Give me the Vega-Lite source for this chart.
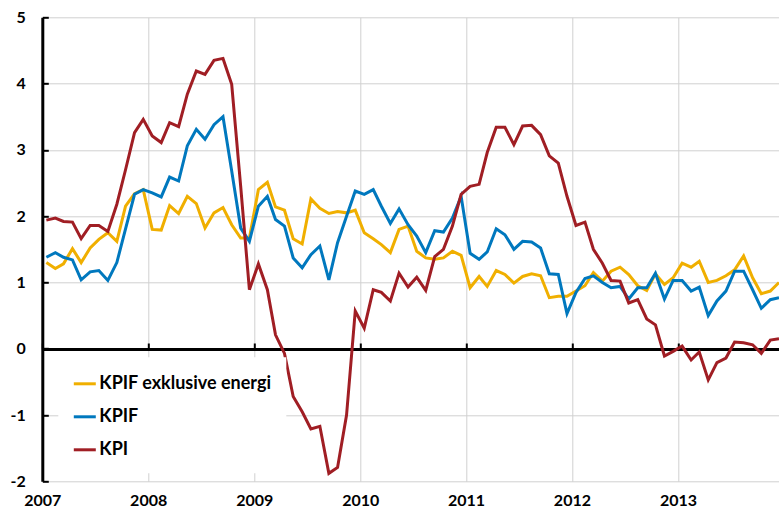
{
"$schema": "https://vega.github.io/schema/vega-lite/v6.json",
"width": 737, "height": 464,
"autosize": {"type": "none"},
"padding": {"left": 42.3, "top": 17.3, "right": 0, "bottom": 26.7},
"background": "white",
"config": {"font": "Lato", "view": {"stroke": null}},
"datasets": {"d": [
{"t":"2007-01-15","s":"KPIF exklusive energi","v":1.30},{"t":"2007-02-15","s":"KPIF exklusive energi","v":1.21},{"t":"2007-03-15","s":"KPIF exklusive energi","v":1.28},{"t":"2007-04-15","s":"KPIF exklusive energi","v":1.51},{"t":"2007-05-15","s":"KPIF exklusive energi","v":1.30},{"t":"2007-06-15","s":"KPIF exklusive energi","v":1.52},{"t":"2007-07-15","s":"KPIF exklusive energi","v":1.65},{"t":"2007-08-15","s":"KPIF exklusive energi","v":1.75},{"t":"2007-09-15","s":"KPIF exklusive energi","v":1.62},{"t":"2007-10-15","s":"KPIF exklusive energi","v":2.15},{"t":"2007-11-15","s":"KPIF exklusive energi","v":2.34},{"t":"2007-12-15","s":"KPIF exklusive energi","v":2.40},
{"t":"2008-01-15","s":"KPIF exklusive energi","v":1.80},{"t":"2008-02-15","s":"KPIF exklusive energi","v":1.79},{"t":"2008-03-15","s":"KPIF exklusive energi","v":2.16},{"t":"2008-04-15","s":"KPIF exklusive energi","v":2.04},{"t":"2008-05-15","s":"KPIF exklusive energi","v":2.30},{"t":"2008-06-15","s":"KPIF exklusive energi","v":2.19},{"t":"2008-07-15","s":"KPIF exklusive energi","v":1.82},{"t":"2008-08-15","s":"KPIF exklusive energi","v":2.05},{"t":"2008-09-15","s":"KPIF exklusive energi","v":2.13},{"t":"2008-10-15","s":"KPIF exklusive energi","v":1.87},{"t":"2008-11-15","s":"KPIF exklusive energi","v":1.67},{"t":"2008-12-15","s":"KPIF exklusive energi","v":1.67},
{"t":"2009-01-15","s":"KPIF exklusive energi","v":2.40},{"t":"2009-02-15","s":"KPIF exklusive energi","v":2.51},{"t":"2009-03-15","s":"KPIF exklusive energi","v":2.14},{"t":"2009-04-15","s":"KPIF exklusive energi","v":2.09},{"t":"2009-05-15","s":"KPIF exklusive energi","v":1.66},{"t":"2009-06-15","s":"KPIF exklusive energi","v":1.58},{"t":"2009-07-15","s":"KPIF exklusive energi","v":2.26},{"t":"2009-08-15","s":"KPIF exklusive energi","v":2.12},{"t":"2009-09-15","s":"KPIF exklusive energi","v":2.04},{"t":"2009-10-15","s":"KPIF exklusive energi","v":2.07},{"t":"2009-11-15","s":"KPIF exklusive energi","v":2.05},{"t":"2009-12-15","s":"KPIF exklusive energi","v":2.09},
{"t":"2010-01-15","s":"KPIF exklusive energi","v":1.75},{"t":"2010-02-15","s":"KPIF exklusive energi","v":1.66},{"t":"2010-03-15","s":"KPIF exklusive energi","v":1.57},{"t":"2010-04-15","s":"KPIF exklusive energi","v":1.45},{"t":"2010-05-15","s":"KPIF exklusive energi","v":1.80},{"t":"2010-06-15","s":"KPIF exklusive energi","v":1.85},{"t":"2010-07-15","s":"KPIF exklusive energi","v":1.47},{"t":"2010-08-15","s":"KPIF exklusive energi","v":1.37},{"t":"2010-09-15","s":"KPIF exklusive energi","v":1.35},{"t":"2010-10-15","s":"KPIF exklusive energi","v":1.37},{"t":"2010-11-15","s":"KPIF exklusive energi","v":1.47},{"t":"2010-12-15","s":"KPIF exklusive energi","v":1.41},
{"t":"2011-01-15","s":"KPIF exklusive energi","v":0.92},{"t":"2011-02-15","s":"KPIF exklusive energi","v":1.09},{"t":"2011-03-15","s":"KPIF exklusive energi","v":0.94},{"t":"2011-04-15","s":"KPIF exklusive energi","v":1.18},{"t":"2011-05-15","s":"KPIF exklusive energi","v":1.12},{"t":"2011-06-15","s":"KPIF exklusive energi","v":0.99},{"t":"2011-07-15","s":"KPIF exklusive energi","v":1.09},{"t":"2011-08-15","s":"KPIF exklusive energi","v":1.13},{"t":"2011-09-15","s":"KPIF exklusive energi","v":1.10},{"t":"2011-10-15","s":"KPIF exklusive energi","v":0.77},{"t":"2011-11-15","s":"KPIF exklusive energi","v":0.79},{"t":"2011-12-15","s":"KPIF exklusive energi","v":0.79},
{"t":"2012-01-15","s":"KPIF exklusive energi","v":0.87},{"t":"2012-02-15","s":"KPIF exklusive energi","v":0.95},{"t":"2012-03-15","s":"KPIF exklusive energi","v":1.15},{"t":"2012-04-15","s":"KPIF exklusive energi","v":1.02},{"t":"2012-05-15","s":"KPIF exklusive energi","v":1.17},{"t":"2012-06-15","s":"KPIF exklusive energi","v":1.23},{"t":"2012-07-15","s":"KPIF exklusive energi","v":1.12},{"t":"2012-08-15","s":"KPIF exklusive energi","v":0.95},{"t":"2012-09-15","s":"KPIF exklusive energi","v":0.88},{"t":"2012-10-15","s":"KPIF exklusive energi","v":1.13},{"t":"2012-11-15","s":"KPIF exklusive energi","v":0.97},{"t":"2012-12-15","s":"KPIF exklusive energi","v":1.07},
{"t":"2013-01-15","s":"KPIF exklusive energi","v":1.29},{"t":"2013-02-15","s":"KPIF exklusive energi","v":1.23},{"t":"2013-03-15","s":"KPIF exklusive energi","v":1.32},{"t":"2013-04-15","s":"KPIF exklusive energi","v":1.00},{"t":"2013-05-15","s":"KPIF exklusive energi","v":1.03},{"t":"2013-06-15","s":"KPIF exklusive energi","v":1.10},{"t":"2013-07-15","s":"KPIF exklusive energi","v":1.19},{"t":"2013-08-15","s":"KPIF exklusive energi","v":1.40},{"t":"2013-09-15","s":"KPIF exklusive energi","v":1.07},{"t":"2013-10-15","s":"KPIF exklusive energi","v":0.83},{"t":"2013-11-15","s":"KPIF exklusive energi","v":0.87},{"t":"2013-12-15","s":"KPIF exklusive energi","v":1.00},
{"t":"2007-01-15","s":"KPIF","v":1.38},{"t":"2007-02-15","s":"KPIF","v":1.45},{"t":"2007-03-15","s":"KPIF","v":1.38},{"t":"2007-04-15","s":"KPIF","v":1.34},{"t":"2007-05-15","s":"KPIF","v":1.04},{"t":"2007-06-15","s":"KPIF","v":1.16},{"t":"2007-07-15","s":"KPIF","v":1.18},{"t":"2007-08-15","s":"KPIF","v":1.03},{"t":"2007-09-15","s":"KPIF","v":1.30},{"t":"2007-10-15","s":"KPIF","v":1.81},{"t":"2007-11-15","s":"KPIF","v":2.33},{"t":"2007-12-15","s":"KPIF","v":2.40},
{"t":"2008-01-15","s":"KPIF","v":2.35},{"t":"2008-02-15","s":"KPIF","v":2.29},{"t":"2008-03-15","s":"KPIF","v":2.59},{"t":"2008-04-15","s":"KPIF","v":2.53},{"t":"2008-05-15","s":"KPIF","v":3.06},{"t":"2008-06-15","s":"KPIF","v":3.31},{"t":"2008-07-15","s":"KPIF","v":3.16},{"t":"2008-08-15","s":"KPIF","v":3.38},{"t":"2008-09-15","s":"KPIF","v":3.50},{"t":"2008-10-15","s":"KPIF","v":2.68},{"t":"2008-11-15","s":"KPIF","v":1.82},{"t":"2008-12-15","s":"KPIF","v":1.62},
{"t":"2009-01-15","s":"KPIF","v":2.15},{"t":"2009-02-15","s":"KPIF","v":2.30},{"t":"2009-03-15","s":"KPIF","v":1.95},{"t":"2009-04-15","s":"KPIF","v":1.85},{"t":"2009-05-15","s":"KPIF","v":1.37},{"t":"2009-06-15","s":"KPIF","v":1.22},{"t":"2009-07-15","s":"KPIF","v":1.42},{"t":"2009-08-15","s":"KPIF","v":1.55},{"t":"2009-09-15","s":"KPIF","v":1.04},{"t":"2009-10-15","s":"KPIF","v":1.60},{"t":"2009-11-15","s":"KPIF","v":2.00},{"t":"2009-12-15","s":"KPIF","v":2.38},
{"t":"2010-01-15","s":"KPIF","v":2.33},{"t":"2010-02-15","s":"KPIF","v":2.40},{"t":"2010-03-15","s":"KPIF","v":2.15},{"t":"2010-04-15","s":"KPIF","v":1.89},{"t":"2010-05-15","s":"KPIF","v":2.11},{"t":"2010-06-15","s":"KPIF","v":1.87},{"t":"2010-07-15","s":"KPIF","v":1.70},{"t":"2010-08-15","s":"KPIF","v":1.45},{"t":"2010-09-15","s":"KPIF","v":1.78},{"t":"2010-10-15","s":"KPIF","v":1.76},{"t":"2010-11-15","s":"KPIF","v":1.97},{"t":"2010-12-15","s":"KPIF","v":2.30},
{"t":"2011-01-15","s":"KPIF","v":1.44},{"t":"2011-02-15","s":"KPIF","v":1.35},{"t":"2011-03-15","s":"KPIF","v":1.46},{"t":"2011-04-15","s":"KPIF","v":1.81},{"t":"2011-05-15","s":"KPIF","v":1.72},{"t":"2011-06-15","s":"KPIF","v":1.50},{"t":"2011-07-15","s":"KPIF","v":1.62},{"t":"2011-08-15","s":"KPIF","v":1.61},{"t":"2011-09-15","s":"KPIF","v":1.52},{"t":"2011-10-15","s":"KPIF","v":1.13},{"t":"2011-11-15","s":"KPIF","v":1.12},{"t":"2011-12-15","s":"KPIF","v":0.53},
{"t":"2012-01-15","s":"KPIF","v":0.85},{"t":"2012-02-15","s":"KPIF","v":1.06},{"t":"2012-03-15","s":"KPIF","v":1.10},{"t":"2012-04-15","s":"KPIF","v":1.00},{"t":"2012-05-15","s":"KPIF","v":0.92},{"t":"2012-06-15","s":"KPIF","v":0.94},{"t":"2012-07-15","s":"KPIF","v":0.75},{"t":"2012-08-15","s":"KPIF","v":0.92},{"t":"2012-09-15","s":"KPIF","v":0.92},{"t":"2012-10-15","s":"KPIF","v":1.14},{"t":"2012-11-15","s":"KPIF","v":0.75},{"t":"2012-12-15","s":"KPIF","v":1.03},
{"t":"2013-01-15","s":"KPIF","v":1.03},{"t":"2013-02-15","s":"KPIF","v":0.87},{"t":"2013-03-15","s":"KPIF","v":0.93},{"t":"2013-04-15","s":"KPIF","v":0.50},{"t":"2013-05-15","s":"KPIF","v":0.72},{"t":"2013-06-15","s":"KPIF","v":0.87},{"t":"2013-07-15","s":"KPIF","v":1.17},{"t":"2013-08-15","s":"KPIF","v":1.17},{"t":"2013-09-15","s":"KPIF","v":0.89},{"t":"2013-10-15","s":"KPIF","v":0.61},{"t":"2013-11-15","s":"KPIF","v":0.74},{"t":"2013-12-15","s":"KPIF","v":0.77},
{"t":"2007-01-15","s":"KPI","v":1.94},{"t":"2007-02-15","s":"KPI","v":1.97},{"t":"2007-03-15","s":"KPI","v":1.92},{"t":"2007-04-15","s":"KPI","v":1.91},{"t":"2007-05-15","s":"KPI","v":1.66},{"t":"2007-06-15","s":"KPI","v":1.86},{"t":"2007-07-15","s":"KPI","v":1.86},{"t":"2007-08-15","s":"KPI","v":1.77},{"t":"2007-09-15","s":"KPI","v":2.18},{"t":"2007-10-15","s":"KPI","v":2.70},{"t":"2007-11-15","s":"KPI","v":3.26},{"t":"2007-12-15","s":"KPI","v":3.46},
{"t":"2008-01-15","s":"KPI","v":3.21},{"t":"2008-02-15","s":"KPI","v":3.11},{"t":"2008-03-15","s":"KPI","v":3.41},{"t":"2008-04-15","s":"KPI","v":3.35},{"t":"2008-05-15","s":"KPI","v":3.84},{"t":"2008-06-15","s":"KPI","v":4.19},{"t":"2008-07-15","s":"KPI","v":4.14},{"t":"2008-08-15","s":"KPI","v":4.35},{"t":"2008-09-15","s":"KPI","v":4.38},{"t":"2008-10-15","s":"KPI","v":3.99},{"t":"2008-11-15","s":"KPI","v":2.45},{"t":"2008-12-15","s":"KPI","v":0.89},
{"t":"2009-01-15","s":"KPI","v":1.28},{"t":"2009-02-15","s":"KPI","v":0.89},{"t":"2009-03-15","s":"KPI","v":0.21},{"t":"2009-04-15","s":"KPI","v":-0.07},{"t":"2009-05-15","s":"KPI","v":-0.72},{"t":"2009-06-15","s":"KPI","v":-0.95},{"t":"2009-07-15","s":"KPI","v":-1.21},{"t":"2009-08-15","s":"KPI","v":-1.17},{"t":"2009-09-15","s":"KPI","v":-1.88},{"t":"2009-10-15","s":"KPI","v":-1.79},{"t":"2009-11-15","s":"KPI","v":-1.00},{"t":"2009-12-15","s":"KPI","v":0.57},
{"t":"2010-01-15","s":"KPI","v":0.31},{"t":"2010-02-15","s":"KPI","v":0.89},{"t":"2010-03-15","s":"KPI","v":0.85},{"t":"2010-04-15","s":"KPI","v":0.72},{"t":"2010-05-15","s":"KPI","v":1.14},{"t":"2010-06-15","s":"KPI","v":0.93},{"t":"2010-07-15","s":"KPI","v":1.08},{"t":"2010-08-15","s":"KPI","v":0.88},{"t":"2010-09-15","s":"KPI","v":1.39},{"t":"2010-10-15","s":"KPI","v":1.50},{"t":"2010-11-15","s":"KPI","v":1.85},{"t":"2010-12-15","s":"KPI","v":2.33},
{"t":"2011-01-15","s":"KPI","v":2.45},{"t":"2011-02-15","s":"KPI","v":2.48},{"t":"2011-03-15","s":"KPI","v":2.96},{"t":"2011-04-15","s":"KPI","v":3.34},{"t":"2011-05-15","s":"KPI","v":3.34},{"t":"2011-06-15","s":"KPI","v":3.08},{"t":"2011-07-15","s":"KPI","v":3.36},{"t":"2011-08-15","s":"KPI","v":3.37},{"t":"2011-09-15","s":"KPI","v":3.23},{"t":"2011-10-15","s":"KPI","v":2.91},{"t":"2011-11-15","s":"KPI","v":2.80},{"t":"2011-12-15","s":"KPI","v":2.30},
{"t":"2012-01-15","s":"KPI","v":1.86},{"t":"2012-02-15","s":"KPI","v":1.91},{"t":"2012-03-15","s":"KPI","v":1.50},{"t":"2012-04-15","s":"KPI","v":1.29},{"t":"2012-05-15","s":"KPI","v":1.03},{"t":"2012-06-15","s":"KPI","v":1.02},{"t":"2012-07-15","s":"KPI","v":0.69},{"t":"2012-08-15","s":"KPI","v":0.74},{"t":"2012-09-15","s":"KPI","v":0.45},{"t":"2012-10-15","s":"KPI","v":0.36},{"t":"2012-11-15","s":"KPI","v":-0.11},{"t":"2012-12-15","s":"KPI","v":-0.04},
{"t":"2013-01-15","s":"KPI","v":0.04},{"t":"2013-02-15","s":"KPI","v":-0.17},{"t":"2013-03-15","s":"KPI","v":-0.05},{"t":"2013-04-15","s":"KPI","v":-0.47},{"t":"2013-05-15","s":"KPI","v":-0.21},{"t":"2013-06-15","s":"KPI","v":-0.14},{"t":"2013-07-15","s":"KPI","v":0.10},{"t":"2013-08-15","s":"KPI","v":0.09},{"t":"2013-09-15","s":"KPI","v":0.06},{"t":"2013-10-15","s":"KPI","v":-0.07},{"t":"2013-11-15","s":"KPI","v":0.13},{"t":"2013-12-15","s":"KPI","v":0.15}
]},
"data": {"name": "d"},
"layer": [
{
"mark": {"type": "line", "strokeWidth": 3, "clip": true},
"encoding": {
"x": {"field": "t", "type": "temporal",
"scale": {"type": "utc", "domain": [{"year": 2007, "month": 1, "date": 1, "utc": true}, {"year": 2013, "month": 12, "date": 16, "utc": true}]},
"axis": {"orient": "bottom", "title": null, "format": "%Y", "formatType": "utc",
"values": [{"year": 2007, "month": 1, "date": 1, "utc": true}, {"year": 2008, "month": 1, "date": 1, "utc": true}, {"year": 2009, "month": 1, "date": 1, "utc": true}, {"year": 2010, "month": 1, "date": 1, "utc": true}, {"year": 2011, "month": 1, "date": 1, "utc": true}, {"year": 2012, "month": 1, "date": 1, "utc": true}, {"year": 2013, "month": 1, "date": 1, "utc": true}],
"labelFont": "Lato", "labelFontWeight": "bold", "labelFontSize": 16, "labelColor": "black", "labelPadding": 24.5, "labelBaseline": "alphabetic", "labelFlush": false,
"ticks": false, "domain": false, "grid": true, "gridColor": "#d0d0d0", "gridWidth": 1}},
"y": {"field": "v", "type": "quantitative",
"scale": {"domain": [-2, 5], "nice": false, "zero": false},
"axis": {"title": null, "values": [-2, -1, 0, 1, 2, 3, 4, 5], "grid": true, "gridColor": "#d0d0d0", "gridWidth": 1,
"labelExpr": "datum.value < 0 ? '-' + abs(datum.value) : '' + datum.value",
"domain": true, "domainColor": "black", "domainWidth": 3, "ticks": true, "tickColor": "black", "tickWidth": 2, "tickSize": -6,
"labelPadding": 23, "labelFont": "Lato", "labelFontWeight": "bold", "labelFontSize": 16, "labelColor": "black"}},
"color": {"field": "s", "type": "nominal",
"scale": {"domain": ["KPIF exklusive energi", "KPIF", "KPI"], "range": ["#F0AF00", "#0078BE", "#A01E24"]},
"legend": {"orient": "none", "legendX": 16, "legendY": 340, "title": null, "fillColor": "white", "padding": 14,
"symbolType": "stroke", "symbolSize": 484, "symbolStrokeWidth": 3, "labelOffset": 2, "rowPadding": 11, "labelLimit": 0,
"labelFont": "Lato", "labelFontWeight": "bold", "labelFontSize": 18, "labelColor": "black"}}
}
},
{
"mark": {"type": "point", "opacity": 0},
"encoding": {
"x": {"field": "t", "type": "temporal",
"scale": {"type": "utc", "domain": [{"year": 2007, "month": 1, "date": 1, "utc": true}, {"year": 2013, "month": 12, "date": 16, "utc": true}]},
"axis": {"orient": "top", "offset": -331.7, "title": null, "labels": false, "grid": false,
"values": [{"year": 2007, "month": 1, "date": 1, "utc": true}, {"year": 2008, "month": 1, "date": 1, "utc": true}, {"year": 2009, "month": 1, "date": 1, "utc": true}, {"year": 2010, "month": 1, "date": 1, "utc": true}, {"year": 2011, "month": 1, "date": 1, "utc": true}, {"year": 2012, "month": 1, "date": 1, "utc": true}, {"year": 2013, "month": 1, "date": 1, "utc": true}],
"domain": true, "domainColor": "black", "domainWidth": 3, "ticks": true, "tickColor": "black", "tickWidth": 2, "tickSize": 6}}
}
}
],
"resolve": {"axis": {"x": "independent"}}
}
